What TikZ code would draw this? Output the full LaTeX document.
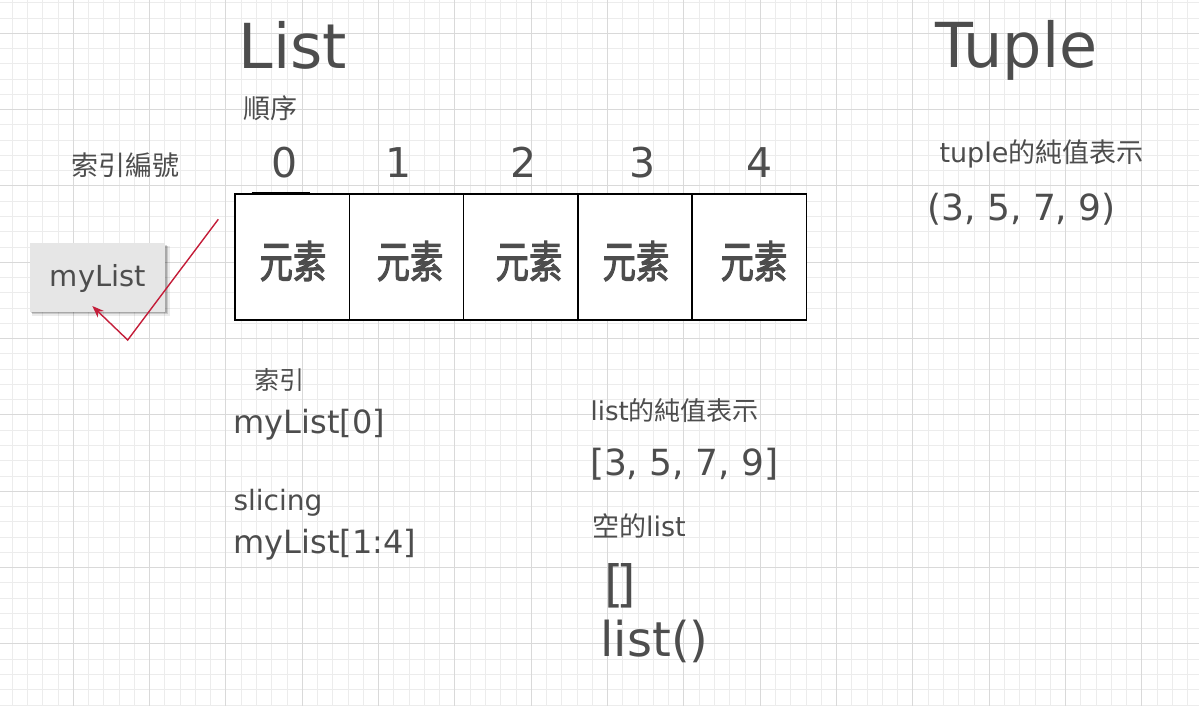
\documentclass[tikz,border=0pt]{standalone}
\usepackage{graphicx}
\usepackage{fontspec}
\setmainfont{DejaVu Sans}
\newfontfamily\cjk{Noto Sans CJK TC}
\newfontfamily\cjkm{Noto Sans CJK TC}[FakeBold=2.5]
\usetikzlibrary{arrows.meta}
\definecolor{tc}{HTML}{4D4D4D}
\definecolor{gminor}{HTML}{ECECEC}
\definecolor{gmajor}{HTML}{D9D9D9}
\definecolor{arrowred}{HTML}{C41E3A}
\definecolor{boxgray}{HTML}{E6E6E6}
\newcommand\fsz[1]{\fontsize{#1}{#1}\selectfont}
\begin{document}
\begin{tikzpicture}[x=1pt,y=-1pt,
  txt/.style={inner sep=0pt, outer sep=0pt, anchor=base west, text=tc},
  ctxt/.style={inner sep=0pt, outer sep=0pt, anchor=base, text=tc},
  elem/.style={inner sep=0pt, outer sep=0pt, text=tc},
  cell/.style={draw=black, line width=1.6pt, fill=white, minimum width=114.3pt,
               minimum height=126pt, inner sep=0pt, outer sep=0pt},
  minorline/.style={gminor, line width=1pt},
  majorline/.style={gmajor, line width=1pt},
  redarrow/.style={arrowred, line width=1.4pt, -{Stealth[length=12pt,width=9pt]}}]
\useasboundingbox (0,0) rectangle (1199,706);
\fill[white] (0,0) rectangle (1199,706);
% grid
\foreach \i in {0,...,78} {
  \pgfmathsetmacro\xx{floor(12.2+15.267*\i)+0.5}
  \draw[minorline] (\xx,0) -- (\xx,706);}
\foreach \i in {0,...,46} {
  \pgfmathsetmacro\yy{floor(2.77+15.267*\i)+0.5}
  \draw[minorline] (0,\yy) -- (1199,\yy);}
\foreach \i in {0,...,14} {
  \pgfmathsetmacro\xx{floor(73.3+76.33*\i)+0.5}
  \draw[majorline] (\xx,0) -- (\xx,706);}
\foreach \i in {0,...,8} {
  \pgfmathsetmacro\yy{floor(33.3+76.33*\i)+0.5}
  \draw[majorline] (0,\yy) -- (1199,\yy);}

% titles
\node[txt] (list) at (238.5,68.3) {\fsz{62}List};
\node[txt] (tuple) at (935,68) {\fsz{62}Tuple};
\node[txt] (order) at (243.6,118.4) {\fsz{27}\cjk 順序};
\node[txt] (idxno) at (71.7,175.4) {\fsz{27}\cjk 索引編號};

% index numbers
\node[ctxt] (n0) at (284.4,177) {\fsz{41}0};
\node[ctxt] (n1) at (399,177) {\fsz{41}1};
\node[ctxt] (n2) at (523.3,177) {\fsz{41}2};
\node[ctxt] (n3) at (642.5,177) {\fsz{41}3};
\node[ctxt] (n4) at (759.5,177) {\fsz{41}4};

% cells
\foreach \k in {0,...,4}
  \node[cell] (c\k) at ({292.15+114.3*\k},257) {};
\draw[black, line width=1pt] (251.7,192.8) -- (310,192.8);
\node[elem] (e0) at (293,261) {\scalebox{0.76}[1]{\fsz{44}\cjkm 元素}};
\node[elem] (e1) at (410,261) {\scalebox{0.76}[1]{\fsz{44}\cjkm 元素}};
\node[elem] (e2) at (529,261) {\scalebox{0.76}[1]{\fsz{44}\cjkm 元素}};
\node[elem] (e3) at (636,261) {\scalebox{0.76}[1]{\fsz{44}\cjkm 元素}};
\node[elem] (e4) at (754,261) {\scalebox{0.76}[1]{\fsz{44}\cjkm 元素}};

% myList box with shadow
\fill[black, opacity=0.08] (32,246) rectangle (170,316);
\fill[black, opacity=0.14] (32,246) rectangle (168,314);
\fill[black, opacity=0.16] (31,245) rectangle (166.5,313);
\node[fill=boxgray, minimum width=135pt, minimum height=68.4pt, inner sep=0pt, outer sep=0pt] (mylist) at (97.5,277.5) {};
\node[ctxt] (mylisttxt) at (98,286.7) {\fsz{29}myList};

% red arrow
\coordinate (astart) at (218.3,219.3);
\coordinate (abend) at (127.7,340);
\draw[redarrow] (astart) -- (abend) -- ([xshift=-5.2pt,yshift=5.7pt]mylist.south);

% left column texts
\node[txt] (idx) at (254.5,389.5) {\fsz{25}\cjk 索引};
\node[txt] (ml0) at (233.8,433.3) {\fsz{32}myList[0]};
\node[txt] (slic) at (233.5,510) {\fsz{28}slicing};
\node[txt] (ml14) at (233.8,553) {\fsz{32}myList[1:4]};

% middle column texts
\node[txt] (lrep) at (590.6,420) {\fsz{26}list{\cjk 的純值表示}};
\node[txt] (lval) at (590,475) {\fsz{36}[3, 5, 7, 9]};
\node[txt] (empty) at (592,536.5) {\fsz{27}{\cjk 空的}list};
\node[txt] (br) at (604,601.4) {\fsz{50}[\kern-7pt]};
\node[txt] (lfun) at (600.5,656.7) {\fsz{48}list()};

% tuple texts
\node[txt] (trep) at (939.5,162) {\fsz{27}tuple{\cjk 的純值表示}};
\node[txt] (tval) at (927.5,220) {\fsz{36}(3, 5, 7, 9)};
\end{tikzpicture}
\end{document}
